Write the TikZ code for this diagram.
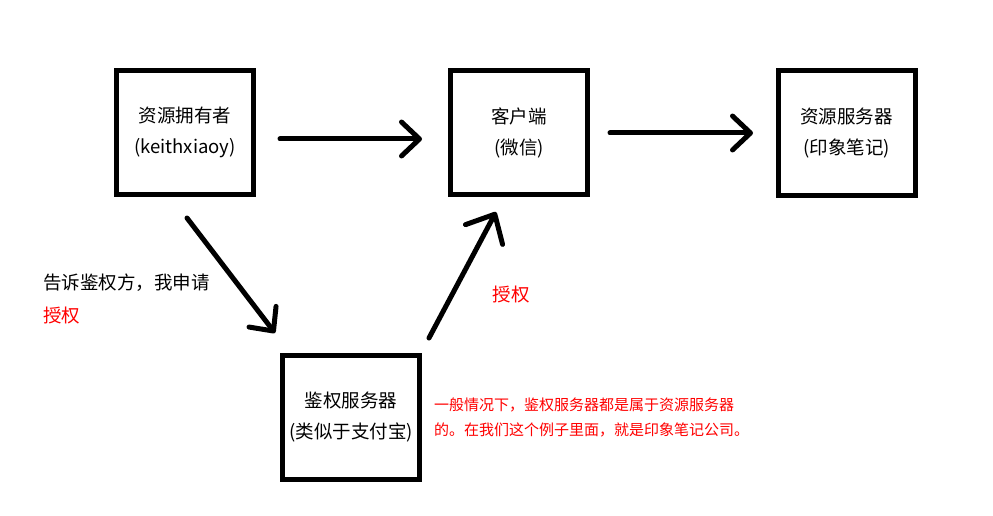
\documentclass[tikz,border=0pt]{standalone}
\usepackage{fontspec}
\setmainfont{Noto Sans CJK SC}
\usetikzlibrary{arrows.meta}
\tikzset{
  box/.style={draw=black, line width=5pt, minimum width=137pt, minimum height=124pt,
    align=center, inner sep=0pt, font=\fontsize{18.5}{31}\selectfont},
  harrow/.style={line width=5pt, line cap=round, line join=round,
    -{Straight Barb[length=18pt, width=34pt, line cap=round, line join=round]}},
  lbl/.style={inner sep=0pt, font=\fontsize{18.5}{33}\selectfont, align=left},
  note/.style={inner sep=0pt, font=\fontsize{15}{25}\selectfont, align=left, text=red}
}
\begin{document}
\begin{tikzpicture}[x=1pt, y=-1pt]
\useasboundingbox (0,0) rectangle (993,516);
\node[box] (owner) at (185,132.5) {资源拥有者\\(keithxiaoy)};
\node[box] (client) at (519,132.5) {客户端\\(微信)};
\node[box] (rs) at (846.5,133) {资源服务器\\(印象笔记)};
\node[box] (as) at (351,417.5) {鉴权服务器\\(类似于支付宝)};

\coordinate (a1s) at (280,139);
\coordinate (a1e) at (422,139);
\coordinate (a2s) at (610,133);
\coordinate (a2e) at (753,133);
\coordinate (a3s) at (187,218);
\coordinate (a3e) at (275,333);
\coordinate (a4s) at (429,338);
\coordinate (a4e) at (496,212);

\draw[harrow] (a1s) -- (a1e);
\draw[harrow] (a2s) -- (a2e);
\draw[harrow] (a3s) -- (a3e);
\draw[harrow, -{Straight Barb[length=23pt, width=42pt, line cap=round, line join=round]}] (a4s) -- (a4e);

\node[lbl, anchor=west] (ask) at (43,298.5) {告诉鉴权方，我申请\\\textcolor{red}{授权}};
\node[lbl, text=red] (grant) at (511,295) {授权};
\node[note, anchor=west] (remark) at (434,417.5) {一般情况下，鉴权服务器都是属于资源服务器\\的。在我们这个例子里面，就是印象笔记公司。};
\end{tikzpicture}
\end{document}
